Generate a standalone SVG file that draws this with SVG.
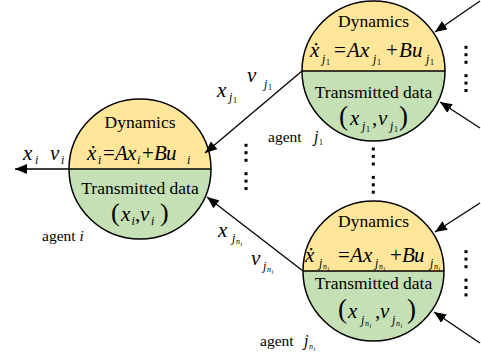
<svg xmlns="http://www.w3.org/2000/svg" width="481" height="356" viewBox="0 0 481 356">
<style>
text{font-family:"Liberation Serif","Times New Roman",serif;fill:#000}
.lbl{font-size:17.5px;text-anchor:middle}
.ag{font-size:15.5px}
.m{font-size:21px;font-style:italic}
.up{font-style:normal}
.s{font-size:12px;font-style:italic}
.ss{font-size:8px}
.sss{font-size:6px}
.par{font-size:26px;font-style:normal}
.par2{font-size:27px;font-style:normal}
.top{fill:#FFE699}
.bot{fill:#C5E0B4}
.edge{fill:none;stroke:#000;stroke-width:1.5}
.conn line{stroke:#000;stroke-width:1.3;marker-end:url(#ah)}
.dot{fill:#000}
</style>
<defs>
<marker id="ah" viewBox="0 0 12 10" refX="12" refY="5" markerWidth="12" markerHeight="10" markerUnits="userSpaceOnUse" orient="auto"><path d="M0,0 L12,5 L0,10 z" fill="#000"/></marker>
<g id="vd">
<rect class="dot" x="-1.5" y="-1.5" width="3" height="3"/>
<rect class="dot" x="-1.5" y="5.9" width="3" height="3"/>
<rect class="dot" x="-1.5" y="13.5" width="3" height="3"/>
<rect class="dot" x="-1.5" y="26.9" width="3" height="3"/>
<rect class="dot" x="-1.5" y="34.3" width="3" height="3"/>
<rect class="dot" x="-1.5" y="41.7" width="3" height="3"/>
</g>
</defs>
<rect width="481" height="356" fill="#fff"/>

<g id="agent-i">
<path class="top" d="M69,169 A71,70 0 0 1 211,169 Z"/>
<path class="bot" d="M69,169 A71,70 0 0 0 211,169 Z"/>
<ellipse class="edge" cx="140" cy="169" rx="71" ry="70"/>
<line x1="69" y1="169" x2="211" y2="169" stroke="#000" stroke-width="1.5"/>
<text class="lbl" x="140" y="128">Dynamics</text>
<text class="m" y="160"><tspan x="87">ẋ</tspan><tspan class="s" x="98" y="164">i</tspan><tspan class="up" x="103" y="160">=</tspan><tspan x="115">A</tspan><tspan x="127">x</tspan><tspan class="s" x="137" y="164">i</tspan><tspan class="up" x="142" y="160">+</tspan><tspan x="154">B</tspan><tspan x="166">u</tspan><tspan class="s" x="187" y="164">i</tspan></text>
<text class="lbl" x="140" y="194">Transmitted data</text>
<text class="m" y="221"><tspan class="par" x="111">(</tspan><tspan x="121">x</tspan><tspan class="s" x="131.5" y="225">i</tspan><tspan class="up" x="135" y="221">,</tspan><tspan x="140">v</tspan><tspan class="s" x="151" y="225">i</tspan><tspan class="par" x="160" y="221">)</tspan></text>
<text class="ag" x="42" y="241">agent <tspan font-style="italic">i</tspan></text>
</g>

<g id="agent-j1">
<path class="top" d="M302,71 A71.5,70 0 0 1 445,71 Z"/>
<path class="bot" d="M302,71 A71.5,70 0 0 0 445,71 Z"/>
<ellipse class="edge" cx="373.5" cy="71" rx="71.5" ry="70"/>
<line x1="302" y1="71" x2="445" y2="71" stroke="#000" stroke-width="1.5"/>
<text class="lbl" x="373.5" y="27">Dynamics</text>
<text class="m" y="57"><tspan x="310">ẋ</tspan><tspan class="s" x="322" y="63">j</tspan><tspan class="ss up" x="326" y="65">1</tspan><tspan class="up" x="334" y="57">=</tspan><tspan x="347">A</tspan><tspan x="360">x</tspan><tspan class="s" x="373" y="63">j</tspan><tspan class="ss up" x="377" y="65">1</tspan><tspan class="up" x="386" y="57">+</tspan><tspan x="399">B</tspan><tspan x="412">u</tspan><tspan class="s" x="426" y="63">j</tspan><tspan class="ss up" x="430" y="65">1</tspan></text>
<text class="lbl" x="373.5" y="98">Transmitted data</text>
<text class="m" y="125"><tspan class="par2" x="339">(</tspan><tspan x="350">x</tspan><tspan class="s" x="362" y="130">j</tspan><tspan class="ss up" x="366" y="132">1</tspan><tspan class="up" x="372" y="125">,</tspan><tspan x="378">v</tspan><tspan class="s" x="390" y="130">j</tspan><tspan class="ss up" x="394" y="132">1</tspan><tspan class="par2" x="399" y="125">)</tspan></text>
<text class="ag" x="268" y="142">agent <tspan class="s" x="314" style="font-size:16px">j</tspan><tspan class="ss" x="319" y="145">1</tspan></text>
</g>

<g id="agent-jn">
<path class="top" d="M303,271 A70.5,70 0 0 1 444,271 Z"/>
<path class="bot" d="M303,271 A70.5,70 0 0 0 444,271 Z"/>
<ellipse class="edge" cx="373.5" cy="271" rx="70.5" ry="70"/>
<line x1="303" y1="271" x2="444" y2="271" stroke="#000" stroke-width="1.5"/>
<text class="lbl" x="373.5" y="227">Dynamics</text>
<text class="m" y="262"><tspan x="305">ẋ</tspan><tspan class="s" x="319" y="267">j</tspan><tspan class="ss" x="323" y="269">n</tspan><tspan class="sss" x="327.5" y="270.5">i</tspan><tspan class="up" x="338" y="262">=</tspan><tspan x="350">A</tspan><tspan x="363">x</tspan><tspan class="s" x="375" y="267">j</tspan><tspan class="ss" x="379" y="269">n</tspan><tspan class="sss" x="383.5" y="270.5">i</tspan><tspan class="up" x="390" y="262">+</tspan><tspan x="402">B</tspan><tspan x="414">u</tspan><tspan class="s" x="430" y="267">j</tspan><tspan class="ss" x="434" y="269">n</tspan><tspan class="sss" x="438.5" y="270.5">i</tspan></text>
<text class="lbl" x="373.5" y="289">Transmitted data</text>
<text class="m" y="318"><tspan class="par2" x="338">(</tspan><tspan x="348">x</tspan><tspan class="s" x="361" y="324">j</tspan><tspan class="ss" x="365" y="326">n</tspan><tspan class="sss" x="369.5" y="327.5">i</tspan><tspan class="up" x="375" y="318">,</tspan><tspan x="380">v</tspan><tspan class="s" x="392" y="324">j</tspan><tspan class="ss" x="396" y="326">n</tspan><tspan class="sss" x="400.5" y="327.5">i</tspan><tspan class="par2" x="407" y="318">)</tspan></text>
<text class="ag" x="260" y="346">agent <tspan class="s" x="304" style="font-size:16px">j</tspan><tspan class="ss" x="309" y="349" font-style="italic">n</tspan><tspan class="sss" x="313.5" y="350.5" font-style="italic">i</tspan></text>
</g>

<g id="connectors" class="conn">
<line x1="69" y1="169" x2="15" y2="169"/>
<line x1="302" y1="71" x2="205" y2="153"/>
<line x1="303" y1="271" x2="207" y2="197"/>
<line x1="480" y1="1" x2="435" y2="32"/>
<line x1="480" y1="128" x2="440" y2="102"/>
<line x1="480" y1="203" x2="435" y2="232"/>
<line x1="480" y1="343" x2="434" y2="312"/>
</g>

<g id="edge-labels">
<text class="m" y="160"><tspan x="23">x</tspan><tspan class="s" x="35" y="164">i</tspan><tspan x="50" y="160">v</tspan><tspan class="s" x="61" y="164">i</tspan></text>
<text class="m" y="97"><tspan x="217">x</tspan><tspan class="s" x="229" y="101">j</tspan><tspan class="ss up" x="233" y="103">1</tspan></text>
<text class="m" y="82"><tspan x="247">v</tspan><tspan class="s" x="264" y="88">j</tspan><tspan class="ss up" x="268" y="90">1</tspan></text>
<text class="m" y="237"><tspan x="218">x</tspan><tspan class="s" x="232" y="242">j</tspan><tspan class="ss" x="236" y="244">n</tspan><tspan class="sss" x="240.5" y="245.5">i</tspan></text>
<text class="m" y="265"><tspan x="251">v</tspan><tspan class="s" x="263" y="270">j</tspan><tspan class="ss" x="267" y="272">n</tspan><tspan class="sss" x="271.5" y="273.5">i</tspan></text>
</g>

<g id="ellipsis">
<use href="#vd" x="466" y="47.3"/>
<use href="#vd" x="246" y="145.3"/>
<use href="#vd" x="373.3" y="149"/>
<use href="#vd" x="466" y="251.7"/>
</g>
</svg>
